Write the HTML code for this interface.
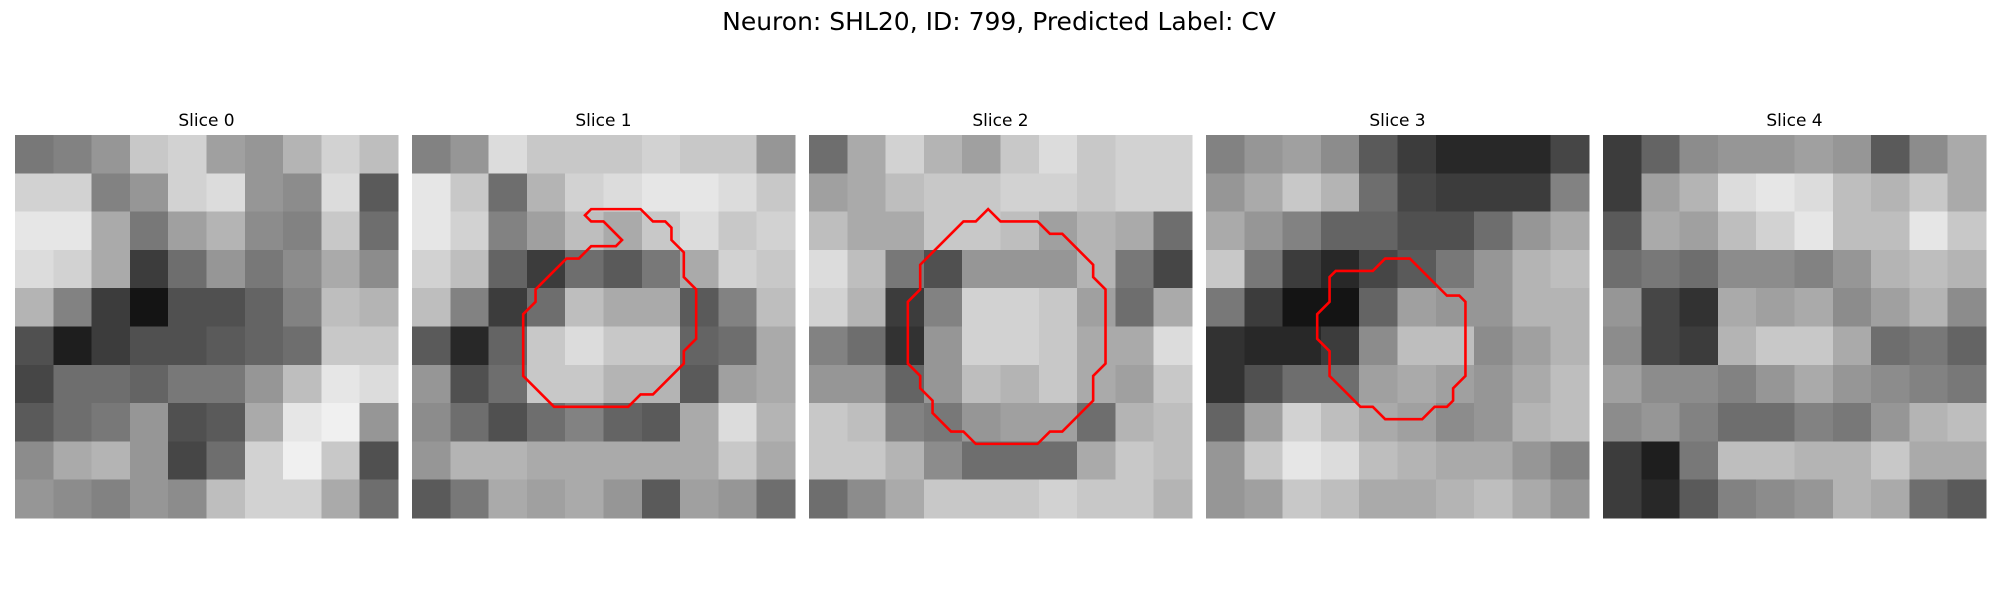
<!DOCTYPE html>
<html><head><meta charset="utf-8">
<style>
html,body{margin:0;padding:0;background:#fff;}
svg{display:block;}
text{font-family:"DejaVu Sans","Liberation Sans",sans-serif;fill:#000;}
</style></head>
<body>
<svg id="fig" width="2000" height="600" viewBox="0 0 2000 600" xmlns="http://www.w3.org/2000/svg">
<rect width="2000" height="600" fill="#fff"/>
<text x="999" y="30" font-size="25" text-anchor="middle">Neuron: SHL20, ID: 799, Predicted Label: CV</text>
<g id="panels"></g>
</svg>
<script>
const sliceTitles = ["Slice 0","Slice 1","Slice 2","Slice 3","Slice 4"];
const gray0 = [
[120,130,150,200,210,160,150,180,210,190],
[210,210,130,150,210,220,150,140,220,90],
[230,230,170,120,160,180,140,130,200,110],
[220,210,170,60,110,150,120,140,170,140],
[180,130,60,20,80,80,100,130,190,180],
[80,30,60,80,80,90,100,110,200,200],
[70,110,110,100,120,120,150,190,230,220],
[90,110,120,150,80,90,170,230,240,150],
[140,170,180,150,70,110,210,240,200,80],
[150,140,130,150,140,190,210,210,170,110]];
const gray1 = [
[130,150,220,200,200,200,210,200,200,150],
[230,200,110,180,210,220,230,230,220,200],
[230,210,130,160,190,170,200,220,200,210],
[210,190,100,60,110,90,120,170,210,200],
[190,130,60,110,190,170,170,90,130,190],
[90,40,100,200,220,200,200,100,110,170],
[150,80,110,200,200,180,180,90,160,170],
[140,110,80,110,130,100,90,170,220,180],
[150,180,180,170,170,170,170,170,200,170],
[90,120,170,160,170,150,90,160,150,110]];
const gray2 = [
[110,170,210,180,160,200,220,200,210,210],
[160,170,190,200,200,210,210,200,210,210],
[190,170,170,200,200,190,160,180,170,110],
[220,190,120,80,150,150,150,180,120,70],
[210,180,60,130,210,210,200,160,110,170],
[130,110,50,150,210,210,200,170,170,220],
[150,150,100,150,190,180,200,170,160,200],
[200,190,130,120,150,160,160,110,180,190],
[200,200,180,140,110,110,110,170,200,190],
[110,140,170,200,200,200,210,200,200,180]];
const gray3 = [
[130,150,160,140,90,60,40,40,40,70],
[150,170,200,180,110,70,60,60,60,130],
[170,150,130,100,100,80,80,110,150,170],
[200,120,60,40,70,90,120,150,180,190],
[120,60,20,20,100,160,150,150,180,180],
[50,40,40,60,140,190,190,140,160,180],
[50,80,110,110,160,170,160,150,170,190],
[100,160,210,190,170,160,140,150,180,190],
[150,200,230,220,190,180,170,170,150,130],
[150,160,200,190,170,170,180,190,170,150]];
const gray4 = [
[60,100,140,150,150,160,150,90,140,170],
[60,160,180,220,230,220,190,180,200,170],
[90,170,160,190,210,230,190,190,230,200],
[110,120,110,140,140,130,150,180,190,180],
[150,70,50,170,160,170,140,160,180,140],
[140,70,60,180,200,200,170,110,120,100],
[160,140,140,130,150,170,150,140,130,120],
[140,150,130,110,110,130,120,150,180,190],
[60,30,120,190,190,180,180,200,170,170],
[60,40,90,130,140,150,180,170,110,90]];
const grays = [gray0, gray1, gray2, gray3, gray4];
// contour vertices in image-pixel units (image is 31x31)
const contour1 = [[14.5,6],[18.5,6],[19.5,7],[20.5,7],[21,7.5],[21,8.5],[22,9.5],[22,11.5],[23,12.5],[23,16.5],[22,17.5],[22,18.5],[19.5,21],[18.5,21],[17.5,22],[11.5,22],[9,19.5],[9,14.5],[10,13.5],[10,12.5],[12.5,10],[13.5,10],[14.5,9],[16.5,9],[17,8.5],[15.5,7],[14.5,7],[14,6.5]];
const contour2 = [[14.5,6],[15.5,7],[18.5,7],[19.5,8],[20.5,8],[23,10.5],[23,11.5],[24,12.5],[24,18.5],[23,19.5],[23,21.5],[20.5,24],[19.5,24],[18.5,25],[13.5,25],[12.5,24],[11.5,24],[10,22.5],[10,21.5],[9,20.5],[9,19.5],[8,18.5],[8,13.5],[9,12.5],[9,10.5],[12.5,7],[13.5,7]];
const contour3 = [[14.5,10],[16.5,10],[19.5,13],[20.5,13],[21,13.5],[21,19.5],[20,20.5],[20,21.5],[19.5,22],[18.5,22],[17.5,23],[14.5,23],[13.5,22],[12.5,22],[10,19.5],[10,17.5],[9,16.5],[9,14.5],[10,13.5],[10,11.5],[10.5,11],[13.5,11]];
const contours = [null, contour1, contour2, contour3, null];

const NS = "http://www.w3.org/2000/svg";
const panelX = [15, 412, 809, 1206, 1603];
const panelY = 135, panelSize = 383, imgN = 31;
const g = document.getElementById('panels');
function mk(tag, attrs){ const e=document.createElementNS(NS,tag); for(const k in attrs) e.setAttribute(k,attrs[k]); return e; }

grays.forEach((grid, p) => {
  const x0 = panelX[p];
  const pg = mk('g', {});
  
  
  const t = mk('text', {x: x0 + panelSize/2, y: 126, 'font-size': 17, 'text-anchor': 'middle'});
  
  
  t.textContent = sliceTitles[p];
  pg.appendChild(t);
  const rows = grid.length, cols = grid[0].length;
  const cw = panelSize / cols, ch = panelSize / rows;
  const ig = mk('g', {'shape-rendering': 'crispEdges'});
  
  
  grid.forEach((row, r) => row.forEach((v, c) => {
    const cell = mk('rect', {x: (x0 + c*cw).toFixed(2), y: (panelY + r*ch).toFixed(2), width: (cw+0.6).toFixed(2), height: (ch+0.6).toFixed(2), fill: `rgb(${v},${v},${v})`});
    
    
    ig.appendChild(cell);
  }));
  pg.appendChild(ig);
  const cont = contours[p];
  if (cont) {
    const s = panelSize / imgN;
    const pts = cont.map(([u,v]) => (x0 + u*s).toFixed(2) + ',' + (panelY + v*s).toFixed(2)).join(' ');
    const poly = mk('polygon', {points: pts, fill: 'none', stroke: '#ff0000', 'stroke-width': 2.6, 'stroke-linejoin': 'miter'});
    
    
    pg.appendChild(poly);
  }
  g.appendChild(pg);
});
</script>
</body></html>
